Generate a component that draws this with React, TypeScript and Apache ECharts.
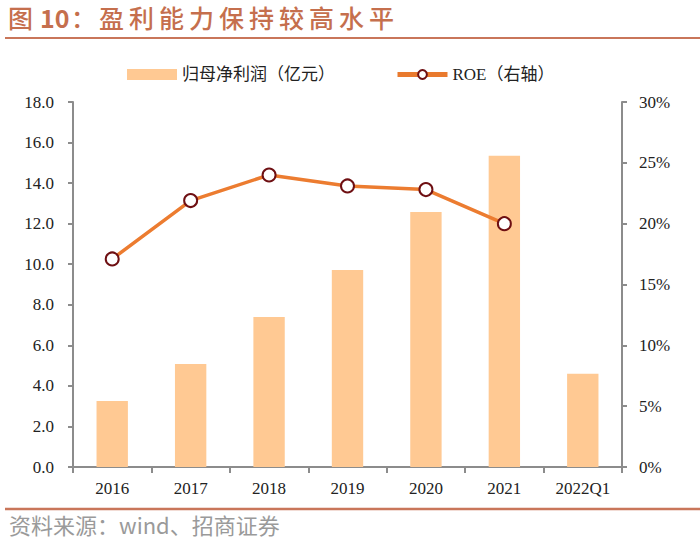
import React, { useEffect, useRef } from "react";
import * as echarts from "echarts";

const categories = ["2016", "2017", "2018", "2019", "2020", "2021", "2022Q1"];
const netProfit = [3.25, 5.08, 7.4, 9.72, 12.57, 15.35, 4.6];
const roe = [17.1, 21.9, 24.0, 23.1, 22.8, 20.0];
const leftTicks = { min: 0, max: 18, interval: 2 };
const rightTicks = { min: 0, max: 30, interval: 5 };
const titleFig = "图";
const titleNum = "10";
const titleColon = "：";
const titleBody = "盈利能力保持较高水平";
const sourceText = "资料来源：wind、招商证券";

const serif = "'Liberation Serif', 'Noto Sans CJK SC', serif";
const cjk = "'Noto Sans CJK SC', sans-serif";
const axisColor = "#8c8c8c";
const titleColor = "#c56f4d";

export default function App() {
  const ref = useRef<HTMLDivElement>(null);
  useEffect(() => {
    if (!ref.current) return;
    const chart = echarts.init(ref.current, null, { renderer: "svg" });
    const titleText = (text: string, x: number, weight: any) => ({
      type: "text",
      x,
      y: 4,
      style: { text, fontFamily: cjk, fontWeight: weight, fontSize: 25, fill: titleColor },
    });
    const titleChars = titleBody
      .split("")
      .map((ch, i) => titleText(ch, 99 + i * 30, 500));
    chart.setOption({
      animation: false,
      backgroundColor: "#ffffff",
      grid: { left: 73, right: 78, top: 102, bottom: 76 },
      legend: {
        top: 61,
        left: 122,
        itemGap: 60,
        itemWidth: 50,
        itemHeight: 11,
        textStyle: { fontFamily: serif, fontSize: 17, color: "#222" },
        data: [
          { name: "归母净利润（亿元）", icon: "rect" },
          { name: "ROE（右轴）", lineStyle: { width: 5, color: "#e97a2e" } },
        ],
      },
      xAxis: {
        type: "category",
        data: categories,
        axisLine: { lineStyle: { color: axisColor, width: 2 } },
        axisTick: { show: true, length: 6, lineStyle: { color: axisColor, width: 2 } },
        axisLabel: { fontFamily: serif, fontSize: 17, color: "#222", margin: 13 },
      },
      yAxis: [
        {
          type: "value",
          ...leftTicks,
          splitLine: { show: false },
          axisLine: { show: true, lineStyle: { color: axisColor, width: 2 } },
          axisTick: { show: true, length: 5, lineStyle: { color: axisColor, width: 2 } },
          axisLabel: {
            fontFamily: serif,
            fontSize: 17,
            color: "#222",
            margin: 19,
            formatter: (v: number) => v.toFixed(1),
          },
        },
        {
          type: "value",
          ...rightTicks,
          position: "right",
          splitLine: { show: false },
          axisLine: { show: true, lineStyle: { color: axisColor, width: 2 } },
          axisTick: { show: true, length: 5, lineStyle: { color: axisColor, width: 2 } },
          axisLabel: {
            fontFamily: serif,
            fontSize: 17,
            color: "#222",
            margin: 17,
            formatter: (v: number) => `${v}%`,
          },
        },
      ],
      series: [
        {
          name: "归母净利润（亿元）",
          type: "bar",
          data: netProfit,
          barWidth: "40%",
          itemStyle: { color: "#ffc993" },
        },
        {
          name: "ROE（右轴）",
          type: "line",
          yAxisIndex: 1,
          data: roe,
          symbol: "circle",
          symbolSize: 13,
          lineStyle: { color: "#ec7c30", width: 3.5 },
          itemStyle: { color: "#ffffff", borderColor: "#6e0f12", borderWidth: 2 },
        },
      ],
      graphic: [
        titleText(titleFig, 8, 500),
        titleText(titleNum, 40, "bold"),
        titleText(titleColon, 71, 500),
        ...titleChars,
        {
          type: "line",
          shape: { x1: 5, y1: 38, x2: 700, y2: 38 },
          style: { stroke: "#c9765a", lineWidth: 2 },
        },
        {
          type: "line",
          shape: { x1: 5, y1: 509, x2: 700, y2: 509 },
          style: { stroke: "#c9765a", lineWidth: 2.5 },
        },
        {
          type: "text",
          x: 9,
          y: 513,
          style: {
            text: sourceText,
            fontFamily: cjk,
            fontSize: 22,
            fill: "#9a9a9a",
          },
        },
      ],
    });
    return () => chart.dispose();
  }, []);
  return (
    <div
      ref={ref}
      style={{ position: "fixed", left: 0, top: 0, width: 700, height: 543 }}
    />
  );
}
